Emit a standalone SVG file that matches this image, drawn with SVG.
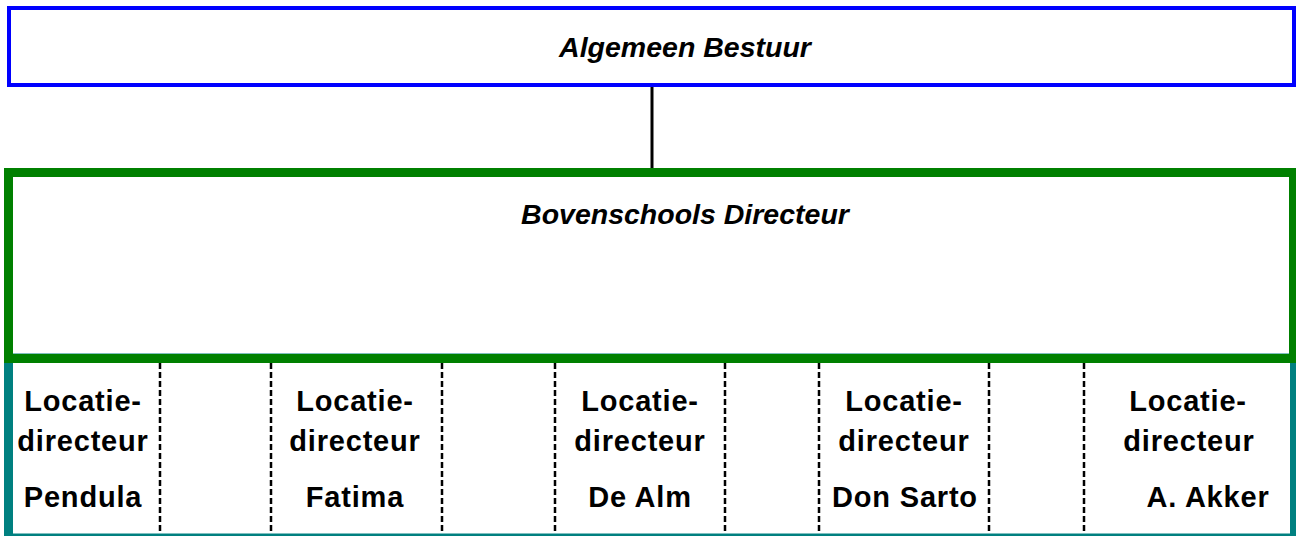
<svg xmlns="http://www.w3.org/2000/svg" width="1296" height="536" viewBox="0 0 1296 536">
<style>
.hdr{font-family:"Liberation Sans",Arial,sans-serif;font-weight:bold;font-style:italic;font-size:28.5px;fill:#000;text-anchor:middle}
.lbl{font-family:"Liberation Sans",Arial,sans-serif;font-weight:bold;font-size:29px;letter-spacing:0.8px;fill:#000;text-anchor:middle}
.sep{stroke:#000;stroke-width:2.5;stroke-dasharray:6 3;fill:none}
</style>
<rect width="1296" height="536" fill="#fff"/>
<g id="locaties">
<rect x="8.5" y="358" width="1286" height="180" fill="#fff" stroke="#008080" stroke-width="9"/>
<g class="sep-lines">
<line class="sep" x1="160" y1="363" x2="160" y2="533"/>
<line class="sep" x1="271" y1="363" x2="271" y2="533"/>
<line class="sep" x1="442" y1="363" x2="442" y2="533"/>
<line class="sep" x1="555" y1="363" x2="555" y2="533"/>
<line class="sep" x1="725" y1="363" x2="725" y2="533"/>
<line class="sep" x1="819" y1="363" x2="819" y2="533"/>
<line class="sep" x1="989" y1="363" x2="989" y2="533"/>
<line class="sep" x1="1084" y1="363" x2="1084" y2="533"/>
</g>
</g>
<g id="loc-pendula">
<text class="lbl" x="83" y="411">Locatie-</text>
<text class="lbl" x="83" y="451">directeur</text>
<text class="lbl" x="83" y="507">Pendula</text>
</g>
<g id="loc-fatima">
<text class="lbl" x="355" y="411">Locatie-</text>
<text class="lbl" x="355" y="451">directeur</text>
<text class="lbl" x="355" y="507">Fatima</text>
</g>
<g id="loc-dealm">
<text class="lbl" x="640" y="411">Locatie-</text>
<text class="lbl" x="640" y="451">directeur</text>
<text class="lbl" x="640" y="507">De Alm</text>
</g>
<g id="loc-donsarto">
<text class="lbl" x="904" y="411">Locatie-</text>
<text class="lbl" x="904" y="451">directeur</text>
<text class="lbl" x="905" y="507">Don Sarto</text>
</g>
<g id="loc-akker">
<text class="lbl" x="1188" y="411">Locatie-</text>
<text class="lbl" x="1189" y="451">directeur</text>
<text class="lbl" x="1208" y="507">A. Akker</text>
</g>
<g id="connectors">
<line x1="652" y1="87" x2="652" y2="169" stroke="#000" stroke-width="3"/>
</g>
<g id="algemeen-bestuur">
<rect x="9" y="8" width="1285" height="77" fill="none" stroke="#0000ff" stroke-width="4"/>
<text class="hdr" x="685" y="57">Algemeen Bestuur</text>
</g>
<g id="bovenschools-directeur">
<rect x="8.5" y="172.5" width="1285" height="186" fill="none" stroke="#008000" stroke-width="9"/>
<text class="hdr" x="685" y="224">Bovenschools Directeur</text>
</g>
</svg>
